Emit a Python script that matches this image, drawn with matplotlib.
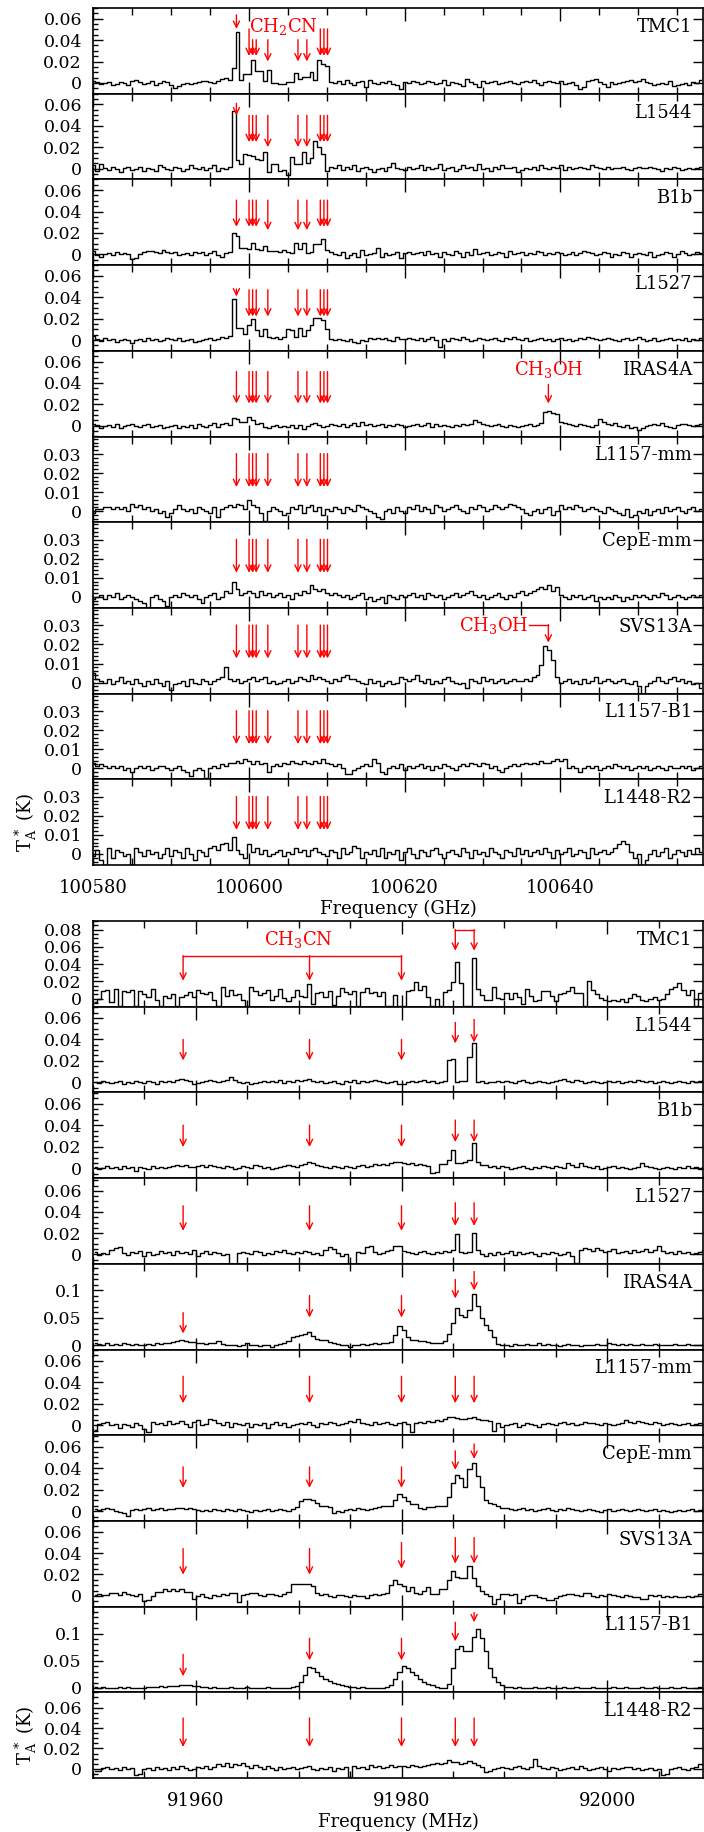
import numpy as np
import matplotlib
matplotlib.use('Agg')
import matplotlib.pyplot as plt
from matplotlib.ticker import MultipleLocator, FuncFormatter

plt.rcParams['font.family'] = 'DejaVu Serif'
plt.rcParams['mathtext.fontset'] = 'dejavuserif'

# ---------------- data (antenna temperature in mK) ----------------
sources = ['TMC1', 'L1544', 'B1b', 'L1527', 'IRAS4A',
           'L1157-mm', 'CepE-mm', 'SVS13A', 'L1157-B1', 'L1448-R2']

# upper block: CH2CN around 100.6 GHz, 0.5 MHz channels
top_f0 = 100580.05
top_df = 0.5
top_tmc1 = [2, 1, -1, 0, 1, -2, -1, 1, 0, -2, 2, 3, 1, -1, 0, 2, -2, 0, 2, 1,
            -2, -5, -3, -1, 0, -1, 0, 1, 2, 2, 1, 0, 2, 4, 5, 3,
            14, 48, 3, 8, 8, 21, 11, 11, 2, 12, 0, 0, -1, -1, 1, 1, 9, 4, 6, 6,
            10, 3, 21, 18, 16, 1,
            0, 2, -1, 3, 0, -2, 1, 2, -4, 3, 0, -1, 1, 0, 2, -1, -2, -6, 1, 0,
            2, 1, -1, 0, 2, 1, -1, 0, 3, -2, 1, 0, -1, -3, 4, 1, -1, -4, 2, 0,
            1, 2, -1, 0, 1, 2, 0, -1, 1, 2, 1, 3, 0, -2, 1, 2, 1, 0, 2, -1,
            0, 1, -2, -6, -4, 2, 3, 4, 1, -1, -4, 1, -1, 0, 1, 2, 3, 1, 2, 4,
            1, 0, -2, -1, 0, -1, 2, -3, -2, -1, 0, -2, 1, 0, 3]
top_l1544 = [3, -2, 4, 1, -1, 2, 0, -3, 1, 2, -1, 0, 2, -2, 1, 0, -2, 3, 2, 0,
             -1, 2, 1, -2, 0, 3, 1, 0, 2, -1, 1, 3, -2, 1, 0, 2,
             54, 8, 4, 14, 13, 12, 9, 8, 16, -3, 4, 4, -2, -1, -6, 11, 4, 4, 16, 5,
             10, 26, 20, 14, -2, 2,
             1, 3, -1, 2, 0, 3, -2, 1, 2, 0, -3, 0, 1, -2, 2, 5, 1, 0, -1, 2,
             0, 1, 3, -1, 2, 0, 1, 4, -1, 1, 2, -2, 0, 3, 1, 2, -1, 4, 0, 1,
             -2, 2, 0, 3, 1, 1, 2, -3, -1, 1, 0, 2, -1, 3, 1, 0, 2, 1, 3, -1,
             2, 0, 1, 2, 1, 0, 3, 2, 1, 0, 2, 0, 1, 1, 2, 0, -1, 1, 2, 1,
             1, 2, 1, 0, -2, 1, 0, 2, 1, -1, 0, 1, 0, 1, 2]
top_b1b = [3, -1, -2, 0, 1, -1, 2, 0, 1, 0, -4, -3, 0, 2, 3, 3, 2, 1, 4, 2,
           1, 2, -1, 0, 1, -1, 2, 1, 2, -1, 1, 3, -1, -2, 1, 2,
           20, 17, 6, 6, 5, 11, 5, 4, 8, 3, 3, 3, 2, 4, 2, 1, 11, 5, 11, 1,
           2, 10, 10, 14, 4, 2,
           0, -1, 2, -3, -1, 1, -2, 4, -1, 0, 1, 6, -2, 1, -1, 0, 2, -3, 1, 2,
           0, 1, 2, -1, 3, 0, 1, -2, 2, 0, -1, 3, 1, -2, 2, -1, 5, 0, 1, 2,
           -1, 0, 2, 1, -2, 3, 0, 1, 2, -1, 1, 0, 3, 2, -1, 1, 0, 2, 1, -1,
           0, 2, -1, 1, 3, 2, 1, -1, 0, 2, 1, -2, 0, -1, 2, 1, -2, 0, 1, 0,
           -1, 2, -2, -1, 0, 2, 1, -2, 0, 3, 1, -1, 0, 2, 1]
top_l1527 = [4, 1, -1, 2, 0, 1, -2, 0, 1, 0, -3, 0, 1, -1, 2, 0, 1, -1, 0, 2,
             1, 0, 2, -1, 0, 1, -2, -1, 0, 1, 2, 0, 1, 3, 2, 4,
             38, 11, 11, 6, 14, 20, 9, 4, 10, 3, 2, 3, 1, 3, 10, 9, 3, 11, 4, 9,
             14, 21, 21, 19, 10, 1,
             0, 1, 0, -1, 1, -2, -3, 0, -1, 2, 1, 2, 1, 2, 0, -1, 3, 1, 1, 2,
             1, 0, 2, -1, 1, 3, 0, -6, 1, -1, 2, 1, 0, 3, 1, -1, 0, 2, 1, 0,
             1, 2, 0, -1, 2, 1, 3, 1, 0, 2, -1, 0, 1, 2, 0, 1, -1, 1, 2, 0,
             1, -1, 0, 2, 1, 3, 2, 1, 0, 1, 2, 1, 0, -1, 1, 2, 0, 1, 3, 1,
             -1, 0, 2, -1, 0, 1, 2, 0, 1, 0, 2, -1, 1, 0, 2]
top_iras4a = [2, 1, -2, 0, 1, -1, 2, -2, 0, 1, 2, 0, -1, 1, 2, -1, 0, 1, -2, -1,
              0, 1, -2, 0, -1, 1, -2, 2, 0, -1, 1, 3, -1, 2, 3, 1,
              7, 6, 4, 4, 8, 5, 2, 3, -1, -2, 0, 1, -1, 0, -1, 1, -2, 1, -3, 0,
              2, 3, 1, -1, 0, 2,
              1, 0, 2, -1, 1, 3, 0, 4, 1, 2, 0, 1, 2, -1, 1, 0, 2, 1, -1, 0,
              1, 2, 0, 1, 3, -1, 2, 0, 1, 0, -1, 1, 0, 2, 1, 2, 5, 4, 2, 1,
              0, 1, 2, 0, -1, 1, 0, -1, 0, 1, 2, 0, 1, 3, 13, 14, 12, 11, 4, 3,
              2, 1, 0, 2, 1, 0, -1, 1, 6, 4, 2, 1, 3, 0, -1, 1, -2, -1, -4, -2,
              0, 1, 2, 1, 3, 0, -1, -2, 1, 2, 2, 1, 0, 1, 2]
top_l1157mm = [-1, 1, 1, 2, 2, 1, 2, 1, 2, 0, 4, 2, 3, 1, 2, 0, 1, -1, 0, -3,
               -1, 1, 3, 1, 0, 1, -1, 2, 1, 0, -1, 2, -3, 1, 2, 3,
               2, 4, 3, 1, 6, 3, 2, -1, -5, 0, 2, 1, 0, -2, -1, 2, 1, 3, -1, 2,
               3, 0, 2, -2, 1, 0,
               2, 1, -1, 2, 1, 0, 3, 2, 1, 0, -1, -3, -4, 0, 1, -1, 2, 0, -1, 2,
               1, 3, 0, 2, 1, -1, 3, 2, 0, 1, 2, 3, 1, 0, -1, 2, 1, 3, 2, 0,
               1, 3, 2, 1, 2, 4, 3, 2, 1, -1, -2, 0, 1, -1, 1, 2, -2, 0, 3, 1,
               2, 1, 3, 2, 0, 1, 2, 1, 0, -1, 2, 1, 0, -1, -2, 1, -3, -2, 0, -1,
               1, -2, 0, 1, -1, 2, 0, 1, 2, 0, -1, 1, 2, 0, 1]
top_cepe = [-1, 0, 1, -1, 1, 0, 2, -1, 0, 1, 0, -1, -2, -3, -6, 0, 1, -1, -2, -5,
            0, 1, 0, 2, 1, 0, 1, -1, -3, 0, 1, 2, -1, 0, 3, 2,
            8, 4, 1, 2, 3, 2, 0, 3, 1, 2, 0, 1, 2, 0, 1, -1, 2, 1, 3, 2,
            6, 4, 3, 4, 2, 1,
            2, 1, 0, 1, -1, 0, 1, 2, -1, 0, -2, -1, 0, -3, 1, 0, -1, 1, 0, 1,
            2, 0, 1, -1, 2, 1, 0, 1, -1, 0, 1, 2, 0, 1, 2, 3, 1, 0, 1, -1,
            0, 1, 2, 0, -1, 1, 0, 2, 3, 1, 2, 3, 4, 5, 4, 6, 3, 5, 1, 0,
            -1, 1, 0, 1, -1, 0, 1, -2, 0, -1, 0, -1, 1, 0, -2, 0, -1, 1, 0, 1,
            0, -1, 1, 0, 2, 1, -1, 0, 1, 0, -1, 0, 1, 0, 1]
top_svs13a = [5, 2, 1, 0, 2, -1, 1, 3, 0, 1, -1, 2, 0, -2, 1, -1, 2, 0, -2, 1,
              -4, -1, 0, 1, -2, 2, 0, -1, 2, 1, -1, 1, 2, 3, 8, 2,
              1, 2, 0, 1, 2, 3, 1, 2, 3, 0, 1, -1, 0, 1, 2, 0, 1, 3, 2, 1,
              4, 2, 3, 2, 1, 0,
              2, 1, 3, 4, 2, 2, 1, 0, -1, 2, 0, 1, -2, 0, 1, -1, 0, 3, 2, 1,
              2, 4, 1, 0, 2, -1, 1, 0, 2, 3, 1, 0, -1, 0, -3, 2, 1, 0, 3, 1,
              2, 0, 1, 2, 0, 1, 2, 1, 1, 2, 1, 3, 4, 9, 19, 17, 12, 3, 0, 1,
              2, 0, 1, -1, 2, 0, 1, 3, 0, 1, 2, 1, 0, 1, 2, 0, -1, 1, -2, -6,
              -2, 0, 1, 3, 1, 0, 2, 3, 1, 2, 0, 1, -1, 0, -3]
top_l1157b1 = [3, 1, 2, 1, 0, 1, 0, 1, -1, 0, -2, 0, 1, 0, 1, -1, 0, 1, 1, 0,
               -1, 0, 1, -1, -2, -4, -1, 0, -1, -5, 0, 1, 0, 2, 1, 3,
               3, 4, 3, 5, 4, 2, 4, 2, 3, -2, 1, 2, 1, 3, 2, 4, 3, 2, 4, 3,
               2, 4, 3, 5, 3, 2,
               1, 2, 0, -3, -3, -1, 0, 1, 2, 1, 5, 3, -2, -3, 0, 1, 0, 2, -1, 1,
               0, 1, 2, 0, 1, -1, 1, 0, 2, 1, 0, -1, 1, 2, 1, 3, 2, 1, 3, 2,
               0, 1, -1, -2, 0, 1, 2, 1, 2, 3, 2, 3, 2, 4, 3, 3, 4, 5, 4, 5,
               0, 1, 0, -2, 0, 1, 0, 1, -1, 0, 1, 0, 2, 1, 0, 1, -1, 0, 1, 0,
               1, -1, 0, 1, 0, -1, 1, 0, 0, 1, 0, 1, -1, 0, 1]
top_l1448r2 = [-1, 2, -3, -6, 3, -2, 2, 1, -1, 0, -6, 3, 1, -1, 2, 0, 1, -2, 0, 3,
               -1, 2, 1, -2, 3, 0, -3, 2, 1, -1, 3, 4, 2, 5, 6, 2,
               9, 2, 0, -2, 5, 1, 3, 0, 2, -1, 0, 1, 2, -1, 1, 0, 3, 1, 2, -1,
               2, 3, 1, 0, -1, 2,
               1, -2, 3, 0, 1, 4, 3, -2, 1, 0, 2, -1, 3, -2, 1, 0, 2, -3, 1, 3,
               0, -2, 2, 1, -1, 2, 3, 0, -2, 1, 2, 0, -1, 3, 1, -2, 2, 0, 1, -1,
               3, 1, 0, -2, 2, 1, -1, 3, 0, 2, -1, 1, 2, 0, 3, 1, -2, 2, 0, 1,
               3, -1, 0, 2, 1, -2, 3, 0, 1, 2, 0, 1, 3, 5, 7, 5, 1, -2, 0, -6,
               -3, 0, 2, -1, 1, 3, -2, 0, 2, 1, -1, 2, 0, 3, 1]
top_spectra = [top_tmc1, top_l1544, top_b1b, top_l1527, top_iras4a,
               top_l1157mm, top_cepe, top_svs13a, top_l1157b1, top_l1448r2]

# lower block: CH3CN 5-4 around 91.98 GHz, 0.4 MHz channels
bot_f0 = 91950.2
bot_df = 0.4
bot_tmc1 = [-4, 0, 9, 10, -4, 11, -8, 9, 8, 10, -8, 9, 5, 2, 11, -2, -8, 3, 1, 5, -8,
            2, 4, 8, 2, 10, 7, 5, 8, -1, -8, 13, 3, 10, 4, 5, -2, -8, 14, 9, 4,
            6, 10, -2, 3, 11, 1, -3, 2, 10, 3, 2, 17,
            -6, 6, 8, 2, 9, -7, 3, 12, 8, 5, 9, -8,
            8, 12, 6, 8, 3, 8, -8, -8, 4, -8, -8,
            9, 10, 19, 10, 15, 2, -8, 0, -8, 8,
            10, 19, 43, 18, -8, -8, 47, 11, 4, -2,
            -2, 14, 1, 0, 7, 0, 6, 2, -6, 11, 3, -3, -2, 9, 9, 3, -3, 5, 7, 9,
            14, 6, 7, -8, 20, 10, 5, 1, -2, -3, -2, -3, 0, -4, 1, 5, 3, -2, -3, 0,
            2, -2, 0, 5, 11, 13, 18, 10, 4, 10, -8, 6, 10]
bot_l1544 = [0, -1, 1, 0, -1, 0, 1, -2, 0, -1, 1, 0, -1, 1, 0, -2, 1, 0, 1, 0,
             2, 3, 2, 1, -2, -1, 0, 1, 2, 1, 0, 1, 2, 5, 2, 0, -1, 0, -2, -1,
             0, 1, 0, 1, 0, 2, -1, 1, 0, 2, 1, 2, 3, 1, 0, 1, -1, 0, 1, -1,
             -2, 1, 0, 2, -1, 1, 0, 1, 2, 1, 0, -1, 0, 1, -2, -2, 0, 1, 0, 1,
             2, 0, 1, -1, 0, 1, 21, 22, 0, 1, 1, 24, 37, 0, 1, -1, 0, 0, 1, 0,
             1, 0, -1, 1, 2, 0, -1, 0, 1, 0, -1, 0, 1, 2, 3, 1, 0, 2, 1, -1,
             0, 1, 0, -1, 0, 1, 0, 1, -1, 0, 1, 0, 2, 1, 0, 1, -1, 0, 1, 0,
             -1, 0, 1, 0, -1, 1, 0, 1, 2]
bot_b1b = [1, -1, 0, 2, 0, 1, -1, 2, 0, 1, -2, 1, 0, -1, 2, 0, 1, 0, 1, 2,
           3, 2, 3, 1, 1, 2, 3, 1, 3, 2, 1, 0, 2, 1, -1, 0, 2, 1, 0, 3,
           2, 0, 1, -1, 0, 1, 2, 3, 2, 1, 3, 4, 6, 5, 3, 2, 1, 0, 2, 1,
           0, 2, 1, 0, 2, 3, 1, 2, 4, 3, 4, 3, 5, 6, 6, 5, 4, 5, 3, 4,
           3, 2, -4, -3, 4, 4, 8, 17, 5, 5, 6, 8, 24, 6, 3, 3, 1, 2, 0, 2,
           1, -1, 0, 1, 2, 0, -1, 1, 0, 2, 1, 0, 2, 1, 0, 5, 3, 1, 5, 2,
           1, 0, 2, -1, 0, 1, 2, 0, 1, 0, -1, 0, 1, 5, 2, 1, 0, -1, 0, 1,
           0, -1, 1, 0, 2, 0, 1, -1, 1]
bot_l1527 = [2, -1, 1, 0, 4, 6, 7, 1, -1, 2, 1, 3, -2, 2, -1, 0, 3, 1, 2, -1,
             3, 1, 2, 0, 4, -2, 1, 3, 0, 2, 1, -1, 0, -9, -9, 1, 2, 1, 0, 3,
             2, -1, 1, 0, 3, 2, 4, 1, 0, 2, 1, 3, 2, 0, 1, -1, 4, 7, 5, 1,
             -2, 0, -9, -9, 2, 1, 7, 8, 2, 0, 1, 3, 4, 8, 8, 3, 2, 1, 0, 2,
             3, 1, 0, 2, 1, 3, 2, 4, 19, 2, 1, 2, 20, 4, 0, -2, 1, -1, 2, 0,
             1, 3, -1, 2, 0, 1, 2, 0, -2, 1, 0, 2, 1, -1, 0, 2, -2, -8, 4, 6,
             5, 3, 6, 4, 2, 3, 5, 1, 2, 3, 1, 4, 2, 3, 5, 2, 4, 8, 3, 1,
             2, 0, 3, 1, 2, 0, 1, 2, 4]
bot_iras4a = [3, 2, 1, 3, 0, 2, 1, 3, 2, 1, 2, 0, 1, 2, 1, 3, 2, 3, 4, 5,
              7, 9, 8, 6, 5, 4, 3, 2, 3, 4, 8, 2, 1, 0, 1, -1, 0, 3, 1, 0,
              -1, 0, 1, -4, 0, 2, 4, 7, 14, 16, 18, 20, 24, 17, 12, 9, 9, 6, 4, 2,
              1, 0, -4, 0, 1, 2, 1, 2, 3, 2, 3, 4, 6, 18, 35, 27, 14, 10, 9, 8,
              7, 5, 3, 3, 4, 8, 21, 40, 67, 55, 52, 64, 93, 71, 49, 37, 27, 15, 2, 0,
              1, -1, 2, 0, 1, 2, 0, 1, 3, 1, 2, 0, 1, -1, 0, 2, 1, 0, -2, 1,
              0, 1, 2, 0, 1, 3, 2, 1, 2, 1, 2, 0, 1, 2, 0, 1, 2, 0, 1, 0,
              1, 2, 0, 1, 2, 1, 0, 1, 2]
bot_l1157mm = [-4, 1, 2, 3, 0, 1, -2, 1, 0, -1, 2, 0, -3, -6, 3, 1, 2, 0, 4, 1,
               2, 4, 1, -1, 3, 5, 0, 1, 6, 5, 2, 0, 3, -1, 2, 1, 0, 2, -1, 1,
               0, 2, -2, 1, 3, 0, 2, -1, 0, 1, 2, 1, 3, 0, -1, 2, 1, 3, 2, 0,
               1, 2, 4, 3, 6, 2, 1, 0, 3, 1, 2, 3, 1, 0, 2, 3, 1, -6, 2, 3,
               2, 4, 3, 5, 4, 6, 8, 8, 7, 6, 6, 7, 8, 6, 5, 5, 4, -5, 2, -1,
               0, 1, 2, -1, 0, 2, 1, 0, -1, 1, 2, 1, 0, 2, 3, 1, 2, 0, 1, 3,
               2, 2, 1, 0, 2, 1, 0, 1, 2, 5, 3, 2, 4, 3, 2, 1, 3, 2, 0, 1,
               2, 1, 0, 1, 2, 0, 1, 2, 1]
bot_cepe = [2, 1, 2, 3, 2, 0, -1, -2, -4, 1, 2, 1, 2, 3, 1, 2, 3, 1, 2, 2,
            3, 3, 2, 3, 2, 1, 0, 1, 0, 2, 1, 0, 2, 1, 0, 2, 1, 0, -1, 1,
            0, 1, 2, 0, 1, 2, 1, 0, 2, 4, 9, 11, 11, 10, 8, 5, 5, 4, -2, 0,
            -1, 1, 2, 1, 3, 2, 1, 2, 3, 4, 5, 5, 5, 10, 16, 13, 9, 7, 7, 3,
            2, 4, 4, 5, 5, 5, 13, 26, 34, 31, 22, 39, 45, 33, 22, 10, 8, 7, 5, 3,
            3, 2, 1, 2, 3, 1, 2, 0, 1, 2, 3, 1, 0, 2, 1, 3, 2, 1, 0, 1,
            2, 1, 0, -1, 1, 2, 0, 1, 2, 1, 0, 1, 2, 1, 0, 1, 2, 0, 1, 0,
            -1, 0, 1, 0, 1, 2, 0, 1, 2]
bot_svs13a = [1, 2, 1, 1, 3, 3, 1, 4, 2, 1, 0, 2, -5, -4, 0, 4, 4, 6, 5, 6,
              5, 6, 4, 4, -3, 0, 2, -1, -2, 1, 0, 2, 1, 3, 3, -6, 1, 2, 3, 3,
              1, 0, 2, 2, 1, 0, 2, 4, 11, 11, 11, 11, 11, 9, 3, 1, 2, 0, -1, 1,
              1, 0, -1, 1, 0, 0, -2, 1, 2, 1, 2, 3, 10, 15, 11, 9, 5, 8, 3, 2,
              5, 8, 2, 2, 6, 6, 15, 23, 18, 17, 17, 28, 17, 9, 5, 2, 0, -8, -3, 2,
              2, 1, 2, -7, -3, 0, 1, 1, -1, -2, -4, -4, -2, 0, 1, 2, 2, 1, 0, 3,
              3, 0, -1, 1, 0, 2, 1, 0, -1, 1, 0, -1, -1, -3, -3, 1, 0, 1, -1, 0,
              -1, 0, -1, -1, 0, -1, 0, 2, 2]
bot_l1157b1 = [1, 0, 1, 0, -1, 0, 1, 0, 1, 0, -1, 0, 0, 1, 2, 1, 3, 2, 3, 4,
               4, 5, 6, 5, 4, 3, 2, 1, 0, 1, 0, -1, 0, 1, 0, -1, 0, 1, 0, 0,
               -1, 0, 1, 0, 0, -1, 0, 0, 1, 3, 11, 23, 39, 37, 30, 22, 16, 13, 10, 7,
               5, 4, 2, 1, 0, 1, 0, 0, -1, 0, 0, 1, 5, 16, 30, 41, 37, 30, 23, 17,
               11, 8, 5, 2, -1, -1, 8, 36, 72, 78, 67, 67, 94, 109, 91, 67, 36, 20, 11, 5,
               2, 1, 0, 1, 0, -1, 0, 1, 0, 0, 1, 0, -1, 0, 1, 0, 0, 1, 0, -1,
               0, 1, 0, 0, -1, 0, 1, 0, 0, 1, 0, -1, 0, 1, 0, 0, 1, 0, -1, 0,
               1, 0, 0, 1, 0, -1, 0, 1, 0]
bot_l1448r2 = [-2, -2, 1, 2, 0, 1, -1, 2, 0, 1, -6, -5, 0, 1, -1, 2, 0, 1, -1, 2,
               0, 3, 1, -1, 0, 2, 1, 3, 0, 2, 5, 3, 6, 2, 5, 4, 6, 3, 1, 4,
               2, 0, 3, 1, -1, 2, 0, 1, 2, 0, 1, 2, 3, 0, -1, 1, 0, 2, -2, 1,
               0, 2, -8, 3, 1, 2, 0, 4, 2, 3, 1, 2, 4, 2, 3, 3, 2, 4, 3, 2,
               3, 4, 5, 6, 5, 6, 9, 7, 7, 5, 6, 8, 6, 4, 2, -3, -2, 0, 1, 2,
               1, 0, 2, 3, 1, 0, 2, 10, 3, 1, 0, 2, 1, -1, 0, 1, 2, 0, 3, 1,
               -1, 0, 1, 2, 0, -2, 1, 0, 1, 2, 2, 0, 1, -1, 0, 1, -1, 0, -6, -5,
               0, 1, 2, 0, -1, 1, 2, 5, 4]
bot_spectra = [bot_tmc1, bot_l1544, bot_b1b, bot_l1527, bot_iras4a,
               bot_l1157mm, bot_cepe, bot_svs13a, bot_l1157b1, bot_l1448r2]

# line rest frequencies (MHz)
ch2cn_lines = [100598.41, 100600.03, 100600.49, 100600.95, 100602.44,
               100606.31, 100607.45, 100609.18, 100609.64, 100610.10]
ch3oh_line = 100638.45
ch3cn_lines = [91958.76, 91971.05, 91979.99, 91985.22, 91987.05]

# ---------------- layout ----------------
W, H = 704, 1832
X0, X1 = 93, 703
PH = 85.7
top_y0, bot_y0 = 8, 921

top_xlim = (100580, 100658.3)
bot_xlim = (91950, 92009.3)

top_ylims = [(-0.01, 0.07)] * 5 + [(-0.0058, 0.0392)] * 5
top_ymaj = [0.02] * 5 + [0.01] * 5
bot_ylims = [(-0.0093, 0.09), (-0.0095, 0.0705), (-0.009, 0.0705), (-0.009, 0.072),
             (-0.008, 0.148), (-0.009, 0.0705), (-0.009, 0.0705), (-0.01, 0.07),
             (-0.008, 0.1495), (-0.009, 0.075)]
bot_ymaj = [0.02, 0.02, 0.02, 0.02, 0.05, 0.02, 0.02, 0.02, 0.05, 0.02]
minor_of = {0.02: 0.005, 0.01: 0.002, 0.05: 0.01}

# arrow extents (start, tip) in axes fraction
top_arrows = [
    [(0.92, 0.756), (0.756, 0.44), (0.63, 0.44), (0.63, 0.44), (0.63, 0.376),
     (0.63, 0.376), (0.63, 0.376), (0.756, 0.44), (0.756, 0.44), (0.756, 0.44)],
    [(0.887, 0.747)] + [(0.747, 0.435)] * 3 + [(0.747, 0.377)] * 3 + [(0.747, 0.435)] * 3,
    [(0.758, 0.447)] * 4 + [(0.758, 0.408)] * 3 + [(0.758, 0.447)] * 3,
    [(0.72, 0.634)] + [(0.712, 0.40)] * 9,
    [(0.758, 0.385)] * 10,
    [(0.80, 0.41)] * 10,
    [(0.80, 0.41)] * 10,
    [(0.80, 0.41)] * 10,
    [(0.80, 0.41)] * 10,
    [(0.80, 0.41)] * 10,
]
bot_arrows = [
    None,
    [(0.618, 0.373)] * 3 + [(0.817, 0.572), (0.852, 0.583)],
    [(0.618, 0.362)] * 3 + [(0.677, 0.42)] * 2,
    [(0.677, 0.385)] * 3 + [(0.712, 0.443)] * 2,
    [(0.43, 0.187), (0.63, 0.373), (0.63, 0.373), (0.817, 0.595), (0.91, 0.69)],
    [(0.688, 0.373)] * 5,
    [(0.63, 0.385)] * 3 + [(0.817, 0.595), (0.898, 0.723)],
    [(0.677, 0.373), (0.677, 0.373), (0.747, 0.443), (0.805, 0.502), (0.805, 0.502)],
    [(0.443, 0.187), (0.63, 0.373), (0.63, 0.373), (0.817, 0.595), (0.93, 0.817)],
    [(0.70, 0.362)] * 5,
]

RED = '#ff0000'
FS = 13
ASTYLE = '->,head_length=0.45,head_width=0.22'


def arrow(ax, f, y0, y1):
    tr = ax.get_xaxis_transform()
    ax.annotate('', xy=(f, y1), xytext=(f, y0), xycoords=tr, textcoords=tr,
                arrowprops=dict(arrowstyle=ASTYLE, color=RED, lw=1,
                                shrinkA=0, shrinkB=0))


def fmt(v, pos):
    return '%g' % round(v, 4)


fig = plt.figure(figsize=(W / 100, H / 100), dpi=100)


def make_group(y0, f0, df, spectra, xlim, ylims, ymaj, xlabel):
    axes = []
    for k, (name, vals) in enumerate(zip(sources, spectra)):
        ytop = y0 + k * PH
        ax = fig.add_axes([X0 / W, 1 - (ytop + PH) / H, (X1 - X0) / W, PH / H])
        t = np.array(vals) / 1000.0
        f = f0 + df * np.arange(len(t))
        ax.step(f, t, where='mid', color='black', lw=1.0)
        ax.set_xlim(*xlim)
        ax.set_ylim(*ylims[k])
        ax.xaxis.set_major_locator(MultipleLocator(20))
        ax.xaxis.set_minor_locator(MultipleLocator(5))
        ax.yaxis.set_major_locator(MultipleLocator(ymaj[k]))
        ax.yaxis.set_minor_locator(MultipleLocator(minor_of[ymaj[k]]))
        ax.yaxis.set_major_formatter(FuncFormatter(fmt))
        ax.tick_params(which='both', direction='in', top=True, right=True, width=1)
        ax.tick_params(axis='x', which='major', length=9, pad=10, labelsize=FS)
        ax.tick_params(axis='x', which='minor', length=5)
        ax.tick_params(axis='y', which='major', length=7, pad=8, labelsize=12.5)
        ax.tick_params(axis='y', which='minor', length=3.5, right=False)
        for s in ax.spines.values():
            s.set_linewidth(1.2)
        if k < 9:
            ax.tick_params(axis='x', labelbottom=False)
        else:
            ax.set_xlabel(xlabel, fontsize=FS, labelpad=2)
        ax.text(0.982, 0.885, name, transform=ax.transAxes, ha='right', va='top',
                fontsize=FS)
        axes.append(ax)
    return axes


top_axes = make_group(top_y0, top_f0, top_df, top_spectra, top_xlim,
                      top_ylims, top_ymaj, 'Frequency (GHz)')
bot_axes = make_group(bot_y0, bot_f0, bot_df, bot_spectra, bot_xlim,
                      bot_ylims, bot_ymaj, 'Frequency (MHz)')

# upper block annotations
for k, ax in enumerate(top_axes):
    for f, (ys, ye) in zip(ch2cn_lines, top_arrows[k]):
        arrow(ax, f, ys, ye)
top_axes[0].text(100604.5, 0.78, r'CH$_2$CN', transform=top_axes[0].get_xaxis_transform(),
                 ha='center', va='center', color=RED, fontsize=FS)
ax = top_axes[4]
ax.text(ch3oh_line, 0.78, r'CH$_3$OH', transform=ax.get_xaxis_transform(),
        ha='center', va='center', color=RED, fontsize=FS)
arrow(ax, ch3oh_line, 0.607, 0.385)
ax = top_axes[7]
tr = ax.get_xaxis_transform()
ax.text(100631.4, 0.80, r'CH$_3$OH', transform=tr, ha='center', va='center',
        color=RED, fontsize=FS)
ax.plot([100636.0, ch3oh_line], [0.805, 0.805], color=RED, lw=1, transform=tr)
arrow(ax, ch3oh_line, 0.805, 0.595)

# lower block annotations
ax = bot_axes[0]
tr = ax.get_xaxis_transform()
ax.plot([ch3cn_lines[0], ch3cn_lines[2]], [0.595, 0.595], color=RED, lw=1, transform=tr)
for f in ch3cn_lines[:3]:
    arrow(ax, f, 0.595, 0.303)
ax.plot([ch3cn_lines[3], ch3cn_lines[4]], [0.90, 0.90], color=RED, lw=1, transform=tr)
for f in ch3cn_lines[3:]:
    arrow(ax, f, 0.90, 0.653)
ax.text(91969.96, 0.78, r'CH$_3$CN', transform=tr, ha='center', va='center',
        color=RED, fontsize=FS)
for k in range(1, 10):
    for f, (ys, ye) in zip(ch3cn_lines, bot_arrows[k]):
        arrow(bot_axes[k], f, ys, ye)

# y labels on the bottom panel of each block
ylab = r'T$_{\rm A}^{\,*}$ (K)'
for ax in (top_axes[-1], bot_axes[-1]):
    pos = ax.get_position()
    fig.text(26 / W, pos.y0 + pos.height * 0.5, ylab, rotation=90,
             ha='center', va='center', fontsize=FS)

fig.savefig('out.png', dpi=100)
